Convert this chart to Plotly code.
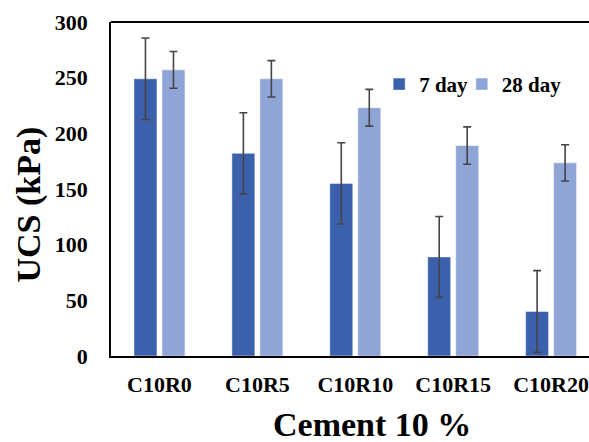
import plotly.graph_objects as go

categories = ["C10R0", "C10R5", "C10R10", "C10R15", "C10R20"]
ucs_7 = [249, 182, 155, 89, 40]
err_7 = [36.6, 36.5, 36.5, 36.3, 36.7]
ucs_28 = [257, 249, 223, 189, 173.5]
err_28 = [16.5, 16.3, 16.5, 16.8, 16.3]
y_ticks = [0, 50, 100, 150, 200, 250, 300]

FONT = "Liberation Serif"
W, H = 589, 442
L, R, T, B = 111, 0, 22, 86

fig = go.Figure()
fig.add_trace(go.Bar(
    x=categories, y=ucs_7, name="7 day", legend="legend",
    marker=dict(color="#3C61AC", line=dict(color="rgba(255,255,255,0.45)", width=1)),
    error_y=dict(type="data", array=err_7, visible=True, color="#454545", thickness=1.6, width=4),
))
fig.add_trace(go.Bar(
    x=categories, y=ucs_28, name="28 day", legend="legend2",
    marker=dict(color="#8FA5D6", line=dict(color="rgba(255,255,255,0.45)", width=1)),
    error_y=dict(type="data", array=err_28, visible=True, color="#454545", thickness=1.6, width=4),
))

legend_font = dict(family=FONT, size=21, color="black", weight="bold")
fig.update_layout(
    width=W, height=H,
    margin=dict(l=L, r=R, t=T, b=B, pad=0),
    paper_bgcolor="white", plot_bgcolor="white",
    barmode="group", bargap=0.428, bargroupgap=0.18,
    font=dict(family=FONT, color="black", weight="bold"),
    showlegend=True,
    legend=dict(
        orientation="h", x=0.561, y=0.813, xanchor="left", yanchor="middle",
        font=legend_font, bgcolor="rgba(0,0,0,0)", itemwidth=30,
    ),
    legend2=dict(
        orientation="h", x=0.734, y=0.813, xanchor="left", yanchor="middle",
        font=legend_font, bgcolor="rgba(0,0,0,0)", itemwidth=30,
    ),
    xaxis=dict(
        type="category", range=[-0.495, 4.387],
        showline=True, linecolor="black", linewidth=1.8,
        ticks="", showgrid=False, zeroline=False,
        tickfont=dict(family=FONT, size=22, color="black", weight="bold"),
        ticklabelstandoff=8,
    ),
    yaxis=dict(
        range=[0, 300], tickvals=y_ticks,
        showline=True, linecolor="black", linewidth=1.8,
        ticks="", showgrid=False, zeroline=False,
        tickfont=dict(family=FONT, size=22, color="black", weight="bold"),
        ticklabelstandoff=17,
    ),
    shapes=[dict(type="line", xref="paper", yref="paper", x0=0, x1=1, y0=1, y1=1,
                 line=dict(color="black", width=1.8))],
    annotations=[
        dict(text="UCS (kPa)", xref="paper", yref="paper",
             x=(28.5 - L) / (W - L - R), y=(H - B - 205) / (H - T - B),
             xanchor="center", yanchor="middle", textangle=-90, showarrow=False,
             font=dict(family=FONT, size=34, color="black", weight="bold")),
        dict(text="Cement 10 %", xref="paper", yref="paper",
             x=(371.5 - L) / (W - L - R), y=(H - B - 424) / (H - T - B),
             xanchor="center", yanchor="middle", showarrow=False,
             font=dict(family=FONT, size=34, color="black", weight="bold")),
    ],
)

fig.write_html("out.html")
